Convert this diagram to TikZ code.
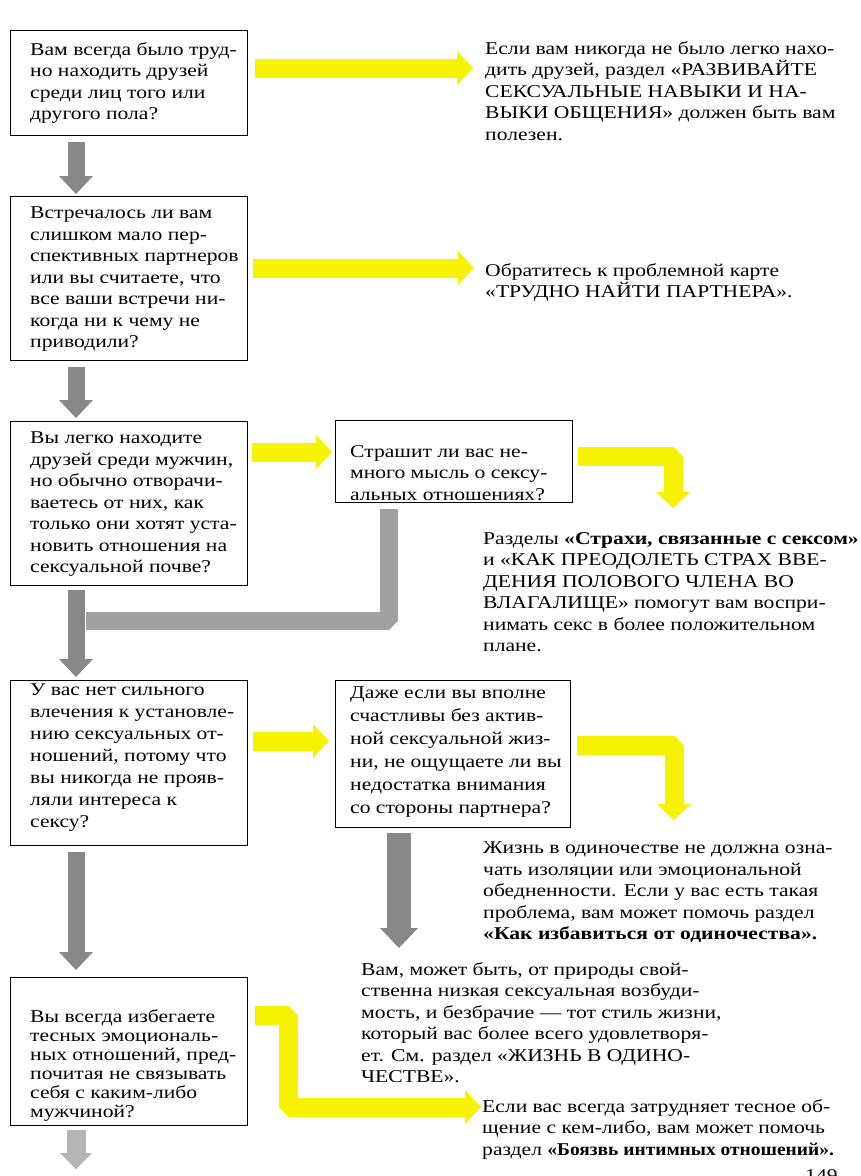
\documentclass[tikz,border=0pt]{standalone}
\usepackage{fontspec}
\setmainfont{Liberation Serif}[FakeStretch=1.2]
\usetikzlibrary{arrows.meta}
\definecolor{ylw}{RGB}{247,243,0}
\definecolor{gry}{RGB}{135,135,135}
\definecolor{lgry}{RGB}{160,160,160}
\definecolor{vlgry}{RGB}{180,180,180}
\begin{document}
\begin{tikzpicture}[x=1pt,y=-1pt,
  qbox/.style={draw=black, line width=1.2pt, inner sep=0pt, anchor=north west},
  qtxt/.style={anchor=north west, align=left, inner sep=0pt,
    font=\fontsize{18}{21.5}\selectfont, execute at begin node={\rule{0pt}{16pt}}},
  yarr/.style={draw=ylw, line width=19pt, line join=bevel,
    -{Triangle[width=34pt,length=16pt,line width=0pt]}},
  garr/.style={draw=gry, line width=17pt,
    -{Triangle[width=34pt,length=18pt,line width=0pt]}},
]
\useasboundingbox[fill=white] (0,0) rectangle (860,1176);

% question boxes
\node[qbox, minimum width=237pt, minimum height=105pt] (b1) at (10,30) {};
\node[qbox, minimum width=237pt, minimum height=164pt] (b2) at (10,196) {};
\node[qbox, minimum width=237pt, minimum height=164pt] (b3) at (10,421) {};
\node[qbox, minimum width=237pt, minimum height=82pt] (b4) at (335,420) {};
\node[qbox, minimum width=237pt, minimum height=165pt] (b5) at (10,680) {};
\node[qbox, minimum width=235pt, minimum height=147pt] (b6) at (335,680) {};
\node[qbox, minimum width=237pt, minimum height=148pt] (b7) at (10,977) {};

% texts in boxes
\node[qtxt] (t1) at (30,42) {Вам всегда было труд-\\но находить друзей\\среди лиц того или\\другого пола?};
\node[qtxt] (t2) at (30,207) {Встречалось ли вам\\слишком мало пер-\\спективных партнеров\\или вы считаете, что\\все ваши встречи ни-\\когда ни к чему не\\приводили?};
\node[qtxt] (t3) at (30,432) {Вы легко находите\\друзей среди мужчин,\\но обычно отворачи-\\ваетесь от них, как\\только они хотят уста-\\новить отношения на\\сексуальной почве?};
\node[qtxt] (t4) at (350,445) {Страшит ли вас не-\\много мысль о сексу-\\альных отношениях?};
\node[qtxt, font=\fontsize{18}{22}\selectfont] (t5) at (30,684) {У вас нет сильного\\влечения к установле-\\нию сексуальных от-\\ношений, потому что\\вы никогда не прояв-\\ляли интереса к\\сексу?};
\node[qtxt, font=\fontsize{18}{23}\selectfont] (t6) at (350,687) {Даже если вы вполне\\счастливы без актив-\\ной сексуальной жиз-\\ни, не ощущаете ли вы\\недостатка внимания\\со стороны партнера?};
\node[qtxt, font=\fontsize{18}{19}\selectfont] (t7) at (30,1009) {Вы всегда избегаете\\тесных эмоциональ-\\ных отношений, пред-\\почитая не связывать\\себя с каким-либо\\мужчиной?};

% answer texts
\node[qtxt] (r1) at (485,41) {Если вам никогда не было легко нахо-\\дить друзей, раздел «РАЗВИВАЙТЕ\\СЕКСУАЛЬНЫЕ НАВЫКИ И НА-\\ВЫКИ ОБЩЕНИЯ» должен быть вам\\полезен.};
\node[qtxt] (r2) at (485,263) {Обратитесь к проблемной карте\\«ТРУДНО НАЙТИ ПАРТНЕРА».};
\node[qtxt] (r3) at (483,532) {Разделы \textbf{«Страхи, связанные с сексом»}\\и «КАК ПРЕОДОЛЕТЬ СТРАХ ВВЕ-\\ДЕНИЯ ПОЛОВОГО ЧЛЕНА ВО\\ВЛАГАЛИЩЕ» помогут вам воспри-\\нимать секс в более положительном\\плане.};
\node[qtxt] (r6) at (483,842) {Жизнь в одиночестве не должна озна-\\чать изоляции или эмоциональной\\обедненности. Если у вас есть такая\\проблема, вам может помочь раздел\\\textbf{«Как избавиться от одиночества».}};
\node[qtxt] (r7) at (361,962) {Вам, может быть, от природы свой-\\ственна низкая сексуальная возбуди-\\мость, и безбрачие — тот стиль жизни,\\который вас более всего удовлетворя-\\ет. См. раздел «ЖИЗНЬ В ОДИНО-\\ЧЕСТВЕ».};
\node[qtxt] (r8) at (482,1099) {Если вас всегда затрудняет тесное об-\\щение с кем-либо, вам может помочь\\раздел \scalebox{0.9}[1]{\textbf{«Боязвь интимных отношений».}}};
\node[qtxt] (pg) at (805,1165) {149};

% connector end points
\coordinate (y1s) at (255,68);   \coordinate (y1e) at (473,68);
\coordinate (y2s) at (253,268);  \coordinate (y2e) at (474,268);
\coordinate (y3s) at (252,452);  \coordinate (y3e) at (332,452);
\coordinate (y4s) at (578,456);  \coordinate (y4e) at (673,508);
\coordinate (y5s) at (253,741);  \coordinate (y5e) at (329,741);
\coordinate (y6s) at (577,745);  \coordinate (y6e) at (674,820);
\coordinate (y7s) at (255,1015); \coordinate (y7m) at (288,1107); \coordinate (y7e) at (481,1107);
\coordinate (g1s) at (76,142);   \coordinate (g1e) at (76,194);
\coordinate (g2s) at (76,367);   \coordinate (g2e) at (76,418);
\coordinate (g3s) at (76,590);   \coordinate (g3e) at (76,677);
\coordinate (g4s) at (389,509);  \coordinate (g4e) at (86,621);
\coordinate (g5s) at (76,852);   \coordinate (g5e) at (76,970);
\coordinate (g6s) at (399,833);  \coordinate (g6e) at (399,948);
\coordinate (g7s) at (76,1130);  \coordinate (g7e) at (76,1169);

% yellow arrows
\draw[yarr] (y1s) -- (y1e);
\draw[yarr] (y2s) -- (y2e);
\draw[yarr] (y3s) -- (y3e);
\draw[yarr] (y4s) -| (y4e);
\draw[yarr] (y5s) -- (y5e);
\draw[yarr] (y6s) -| (y6e);
\draw[yarr] (y7s) -| (y7m) -- (y7e);

% grey arrows
\draw[garr] (g1s) -- (g1e);
\draw[garr] (g2s) -- (g2e);
\draw[draw=lgry, line width=18pt, line join=bevel] (g4s) |- (g4e);
\draw[garr] (g3s) -- (g3e);
\draw[garr] (g5s) -- (g5e);
\draw[garr, line width=24pt, -{Triangle[width=38pt,length=20pt,line width=0pt]}] (g6s) -- (g6e);
\draw[garr, draw=vlgry, line width=19pt, -{Triangle[width=32pt,length=16pt,line width=0pt]}] (g7s) -- (g7e);
\end{tikzpicture}
\end{document}
